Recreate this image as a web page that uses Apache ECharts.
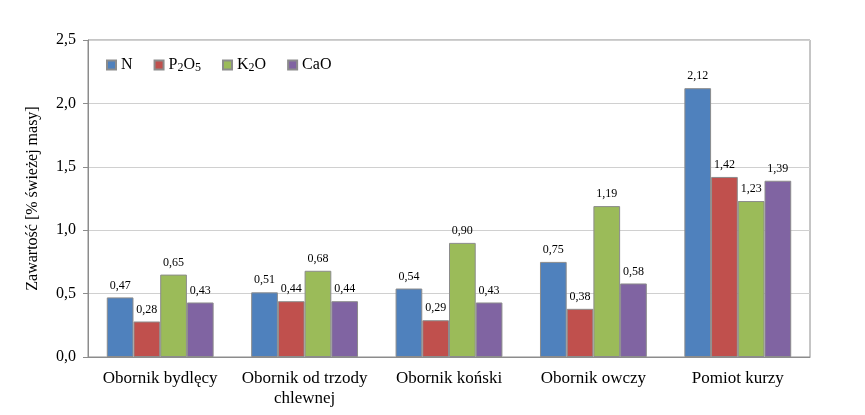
<!DOCTYPE html>
<html><head><meta charset="utf-8">
<script src="https://cdn.jsdelivr.net/npm/echarts@6/dist/echarts.min.js"></script>
<style>html,body{margin:0;padding:0;background:#fff}#c{width:865px;height:415px}</style>
</head><body><div id="c"></div>
<script>
const categories = ['Obornik bydlęcy', 'Obornik od trzody\nchlewnej', 'Obornik koński', 'Obornik owczy', 'Pomiot kurzy'];
const seriesNames = ['N', 'P2O5', 'K2O', 'CaO'];
const valuesN = [0.47, 0.51, 0.54, 0.75, 2.12];
const valuesP2O5 = [0.28, 0.44, 0.29, 0.38, 1.42];
const valuesK2O = [0.65, 0.68, 0.90, 1.19, 1.23];
const valuesCaO = [0.43, 0.44, 0.43, 0.58, 1.39];
const yTicks = [0, 0.5, 1.0, 1.5, 2.0, 2.5];

const colors = ['#4F81BD', '#C0504D', '#9BBB59', '#8064A2'];
const font = "Liberation Serif";
const allValues = [valuesN, valuesP2O5, valuesK2O, valuesCaO];

const legendRich = {
  a: {fontFamily: font, fontSize: 16, color: '#000', lineHeight: 18, verticalAlign: 'middle'},
  s: {fontFamily: font, fontSize: 12, color: '#000', lineHeight: 18, verticalAlign: 'bottom', padding: [8, 0, 0, 0]}
};
function legendFmt(name) {
  if (name === 'P2O5') return '{a|P}{s|2}{a|O}{s|5}';
  if (name === 'K2O') return '{a|K}{s|2}{a|O}';
  return '{a|' + name + '}';
}

const chart = echarts.init(document.getElementById('c'), null, {renderer: 'canvas'});
chart.setOption({
  animation: false,
  textStyle: {fontFamily: font},
  grid: {left: 88, right: 55, top: 40, bottom: 58, show: true, borderColor: '#8c8c8c', borderWidth: 1, backgroundColor: 'transparent'},
  legend: {
    data: seriesNames, left: 101, top: 49, itemWidth: 9, itemHeight: 9, itemGap: 21, icon: 'rect',
    formatter: legendFmt, textStyle: {rich: legendRich, fontFamily: font, fontSize: 16, color: '#000'}
  },
  xAxis: {
    type: 'category', data: categories,
    axisLine: {lineStyle: {color: '#8c8c8c'}}, axisTick: {show: false},
    axisLabel: {fontFamily: font, fontSize: 17, color: '#000', margin: 12, interval: 0,
      formatter: v => v.split('\n').map(s => '{t|' + s + '}').join('\n'),
      rich: {t: {fontFamily: font, fontSize: 17, color: '#000', lineHeight: 20}}}
  },
  yAxis: {
    type: 'value', min: 0, max: 2.5, interval: 0.5,
    name: 'Zawartość [% świeżej masy]', nameLocation: 'middle', nameGap: 47,
    nameTextStyle: {fontFamily: font, fontSize: 16, color: '#000'},
    axisLine: {show: true, lineStyle: {color: '#8c8c8c'}},
    axisTick: {show: true, length: 5, lineStyle: {color: '#8c8c8c'}},
    splitLine: {lineStyle: {color: '#d0d0d0', width: 1}},
    axisLabel: {fontFamily: font, fontSize: 16, color: '#000', margin: 12,
      formatter: v => yTicks.includes(v) ? v.toFixed(1).replace('.', ',') : ''}
  },
  series: seriesNames.map((n, i) => ({
    name: n, type: 'bar', data: allValues[i],
    barGap: '0%', barCategoryGap: '26%',
    itemStyle: {color: colors[i], borderColor: '#8c8c8c', borderWidth: 1},
    label: {show: true, position: 'top', distance: 6, fontFamily: font, fontSize: 12, color: '#000',
      formatter: p => p.value.toFixed(2).replace('.', ',')}
  }))
});
</script></body></html>
